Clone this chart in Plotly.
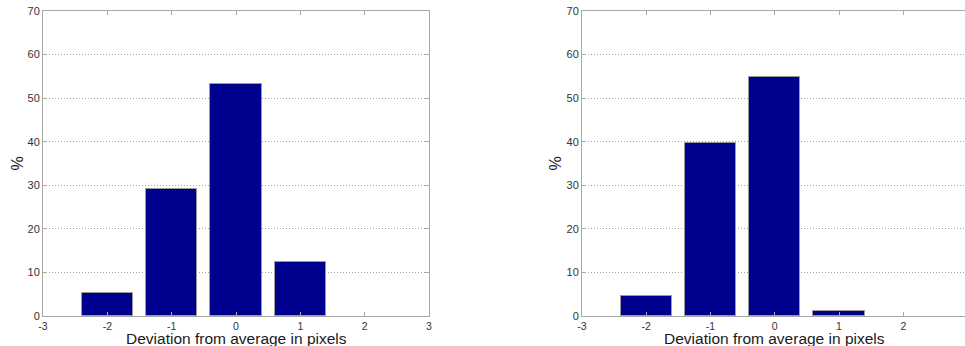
import plotly.graph_objects as go

# Histogram of deviation from the average position (two measurement sets)
deviation = [-2, -1, 0, 1]
share_left = [5.3, 29.2, 53.2, 12.5]
share_right = [4.6, 39.7, 54.9, 1.2]

x_ticks_left = [-3, -2, -1, 0, 1, 2, 3]
x_ticks_right = [-3, -2, -1, 0, 1, 2]
y_ticks = [0, 10, 20, 30, 40, 50, 60, 70]
x_title = "Deviation from average in pixels"
y_title = "%"

BAR = "#00008F"
EDGE = "#9a9a9a"
AXIS = "#a8a8a8"
GRID = "#a6a6a6"
FONT = "Liberation Sans, Arial, sans-serif"

TOP, BOTTOM, H = 11, 30, 346
PLOT_H = H - TOP - BOTTOM


def tick_text(vals):
    # plain hyphen-minus for negative labels
    return [str(v) for v in vals]


fig = go.Figure()
fig.add_trace(go.Bar(x=deviation, y=share_left, width=0.8, marker=dict(color=BAR, line=dict(color=EDGE, width=1)),
                     xaxis="x", yaxis="y", showlegend=False))
fig.add_trace(go.Bar(x=deviation, y=share_right, width=0.8, marker=dict(color=BAR, line=dict(color=EDGE, width=1)),
                     xaxis="x2", yaxis="y2", showlegend=False))

xcommon = dict(showline=True, linecolor=AXIS, linewidth=1, ticks="inside", ticklen=4, tickcolor=AXIS,
               showgrid=False, zeroline=False, tickfont=dict(size=10.5, color="#333", family=FONT),
               automargin=False)
ycommon = dict(showline=True, linecolor=AXIS, linewidth=1, ticks="inside", ticklen=4, tickcolor=AXIS,
               showgrid=True, gridcolor=GRID, griddash="1px,2px", gridwidth=1, zeroline=False,
               range=[0, 70], tickvals=y_ticks, ticktext=tick_text(y_ticks),
               tickfont=dict(size=11, color="#333", family=FONT), automargin=False)

left_dom = [0.0446, 0.4446]
right_dom = [0.6031, 1.0]

fig.update_layout(
    width=965, height=H,
    margin=dict(l=0, r=0, t=TOP, b=BOTTOM, autoexpand=False),
    paper_bgcolor="white", plot_bgcolor="white",
    xaxis=dict(xcommon, domain=left_dom, range=[-3, 3], tickvals=x_ticks_left,
               ticktext=tick_text(x_ticks_left), mirror="ticks", anchor="y"),
    yaxis=dict(ycommon, domain=[0, 1], mirror="ticks", anchor="x"),
    xaxis2=dict(xcommon, domain=right_dom, range=[-3, 2.96], tickvals=x_ticks_right,
                ticktext=tick_text(x_ticks_right), mirror="ticks", anchor="y2"),
    yaxis2=dict(ycommon, domain=[0, 1], mirror=False, anchor="x2"),
    bargap=0,
)

# axis titles: x centred under each panel, "%" rotated left of each y axis
for xref, dom in (("x", left_dom), ("x2", right_dom)):
    fig.add_annotation(text=x_title, xref=xref, x=0, yref="paper", y=-(328.5 - (H - BOTTOM)) / PLOT_H,
                       xanchor="center", yanchor="top", showarrow=False, borderpad=0,
                       font=dict(size=15.5, color="#1a1a1a", family=FONT))
    fig.add_annotation(text=y_title, xref="paper", x=dom[0] - 26 / 965, yref="paper", y=0.5,
                       xanchor="center", yanchor="middle", textangle=-90, showarrow=False, borderpad=0,
                       font=dict(size=16, color="#1a1a1a", family=FONT))

fig.write_html("out.html")
